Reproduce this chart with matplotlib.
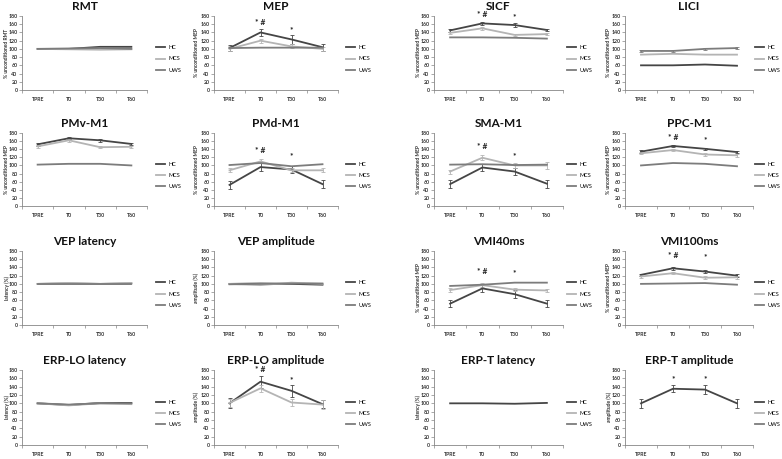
import numpy as np
import matplotlib
matplotlib.use("Agg")
import matplotlib.pyplot as plt
from matplotlib.lines import Line2D

plt.rcParams['font.family'] = ['Lato', 'DejaVu Sans']

categories = ["TPRE", "T0", "T30", "T60"]
groups = ["HC", "MCS", "UWS"]
nan = np.nan

# ---- data ----
rmt_hc = [100, 100, 105, 105]
rmt_mcs = [100, 99, 98, 99]
rmt_uws = [100, 101, 102, 100]

mep_hc = [102, 140, 123, 104]
mep_hc_err = [8, 9, 11, 9]
mep_mcs = [100, 120, 106, 100]
mep_mcs_err = [6, 5, 5, 5]
mep_uws = [102, 103, 103, 103]

sicf_hc = [145, 162, 158, 146]
sicf_hc_err = [4, 3, 4, 3]
sicf_mcs = [139, 150, 134, 136]
sicf_mcs_err = [3, 4, 3, 3]
sicf_uws = [128, 128, 127, 125]

lici_hc = [60, 60, 62, 59]
lici_mcs = [86, 88, 86, 86]
lici_uws = [95, 95, 100, 102]
lici_uws_err = [2, 2, 2, 2]

pmv_hc = [152, 167, 162, 153]
pmv_hc_err = [3, 3, 3, 3]
pmv_mcs = [147, 162, 145, 146]
pmv_mcs_err = [3, 3, 3, 3]
pmv_uws = [102, 104, 104, 100]

pmd_hc = [52, 96, 90, 54]
pmd_hc_err = [10, 10, 8, 10]
pmd_mcs = [88, 110, 88, 88]
pmd_mcs_err = [5, 5, 5, 5]
pmd_uws = [101, 106, 98, 103]

sma_hc = [54, 95, 85, 55]
sma_hc_err = [10, 9, 9, 10]
sma_mcs = [85, 119, 100, 100]
sma_mcs_err = [5, 6, 6, 8]
sma_uws = [102, 103, 101, 102]

ppc_hc = [134, 148, 141, 133]
ppc_hc_err = [3, 3, 3, 3]
ppc_mcs = [130, 138, 127, 125]
ppc_mcs_err = [3, 3, 3, 3]
ppc_uws = [100, 106, 104, 98]

vepl_hc = [100, 101, 100, 101]
vepl_mcs = [100, 102, 100, 102]
vepl_uws = [100, 100, 100, 100]

vepa_hc = [100, 101, 100, 98]
vepa_mcs = [100, 97, 103, 100]
vepa_uws = [99, 100, 101, 101]

vmi40_hc = [52, 89, 75, 52]
vmi40_hc_err = [9, 8, 9, 8]
vmi40_mcs = [85, 97, 86, 84]
vmi40_mcs_err = [5, 5, 4, 4]
vmi40_uws = [95, 98, 103, 103]

vmi100_hc = [122, 138, 130, 120]
vmi100_hc_err = [3, 3, 3, 3]
vmi100_mcs = [118, 126, 115, 116]
vmi100_mcs_err = [3, 3, 3, 3]
vmi100_uws = [100, 101, 102, 98]

erpll_hc = [100, 96, 101, 101]
erpll_mcs = [100, 95, 100, 98]
erpll_uws = [100, 97, 100, 100]

erpla_hc = [100, 152, 130, 98]
erpla_hc_err = [12, 14, 14, 10]
erpla_mcs = [101, 136, 102, 97]
erpla_mcs_err = [10, 8, 8, 10]
erpla_uws = [nan, nan, nan, nan]

erptl_hc = [100, 100, 99, 101]
erptl_mcs = [nan, nan, nan, nan]
erptl_uws = [nan, nan, nan, nan]

erpta_hc = [100, 135, 133, 100]
erpta_hc_err = [10, 8, 10, 10]
erpta_mcs = [nan, nan, nan, nan]
erpta_uws = [nan, nan, nan, nan]

# significance marks: (category, text, value at text centre)
mep_marks = [(1, "* #", 163), (2, "*", 147)]
sicf_marks = [(1, "* #", 183), (2, "*", 179)]
pmd_marks = [(1, "* #", 137), (2, "*", 123)]
sma_marks = [(1, "* #", 147), (2, "*", 123)]
ppc_marks = [(1, "* #", 170), (2, "*", 164)]
vmi40_marks = [(1, "* #", 131), (2, "*", 128)]
vmi100_marks = [(1, "* #", 168), (2, "*", 166)]
erpla_marks = [(1, "* #", 180), (2, "*", 158)]
erpta_marks = [(1, "*", 160), (2, "*", 160)]

MEPL = "% unconditioned MEP"
panels = [
    ("RMT", "% unconditioned RMT", (rmt_hc, None), (rmt_mcs, None), (rmt_uws, None), [], 0, 0),
    ("MEP", MEPL, (mep_hc, mep_hc_err), (mep_mcs, mep_mcs_err), (mep_uws, None), mep_marks, 0, 1),
    ("SICF", MEPL, (sicf_hc, sicf_hc_err), (sicf_mcs, sicf_mcs_err), (sicf_uws, None), sicf_marks, 0, 2),
    ("LICI", MEPL, (lici_hc, None), (lici_mcs, None), (lici_uws, lici_uws_err), [], 0, 3),
    ("PMv-M1", MEPL, (pmv_hc, pmv_hc_err), (pmv_mcs, pmv_mcs_err), (pmv_uws, None), [], 1, 0),
    ("PMd-M1", MEPL, (pmd_hc, pmd_hc_err), (pmd_mcs, pmd_mcs_err), (pmd_uws, None), pmd_marks, 1, 1),
    ("SMA-M1", MEPL, (sma_hc, sma_hc_err), (sma_mcs, sma_mcs_err), (sma_uws, None), sma_marks, 1, 2),
    ("PPC-M1", MEPL, (ppc_hc, ppc_hc_err), (ppc_mcs, ppc_mcs_err), (ppc_uws, None), ppc_marks, 1, 3),
    ("VEP latency", "latency (%)", (vepl_hc, None), (vepl_mcs, None), (vepl_uws, None), [], 2, 0),
    ("VEP amplitude", "amplitude (%)", (vepa_hc, None), (vepa_mcs, None), (vepa_uws, None), [], 2, 1),
    ("VMI40ms", MEPL, (vmi40_hc, vmi40_hc_err), (vmi40_mcs, vmi40_mcs_err), (vmi40_uws, None), vmi40_marks, 2, 2),
    ("VMI100ms", MEPL, (vmi100_hc, vmi100_hc_err), (vmi100_mcs, vmi100_mcs_err), (vmi100_uws, None), vmi100_marks, 2, 3),
    ("ERP-LO latency", "latency (%)", (erpll_hc, None), (erpll_mcs, None), (erpll_uws, None), [], 3, 0),
    ("ERP-LO amplitude", "amplitude (%)", (erpla_hc, erpla_hc_err), (erpla_mcs, erpla_mcs_err), (erpla_uws, None), erpla_marks, 3, 1),
    ("ERP-T latency", "latency (%)", (erptl_hc, None), (erptl_mcs, None), (erptl_uws, None), [], 3, 2),
    ("ERP-T amplitude", "amplitude (%)", (erpta_hc, erpta_hc_err), (erpta_mcs, None), (erpta_uws, None), erpta_marks, 3, 3),
]

colors = {"HC": "#454545", "MCS": "#b4b4b4", "UWS": "#7c7c7c"}
W, H = 782, 459
fig = plt.figure(figsize=(W / 100, H / 100), dpi=100)
fig.patch.set_facecolor("white")

col_x = [(22, 147), (214, 338), (434, 563), (625, 753)]
row_y = [(16, 90), (133, 206), (251, 325), (370, 445)]
ylabel_x = [7, 196, 418, 609]
legend_x = [156, 346, 567, 755]

xs = np.arange(len(categories)) + 0.5
for title, ylab, hc, mcs, uws, marks, r, c in panels:
    x0, x1 = col_x[c]
    yt, yb = row_y[r]
    ax = fig.add_axes([x0 / W, 1 - yb / H, (x1 - x0) / W, (yb - yt) / H])
    handles = []
    for g, (vals, err) in zip(groups, (hc, mcs, uws)):
        ax.errorbar(xs, vals, yerr=err, color=colors[g], lw=1.3, elinewidth=0.6,
                    capsize=1.3, capthick=0.6)
        handles.append(Line2D([], [], color=colors[g], lw=1.3, label=g))
    for ci, txt, val in marks:
        ax.text(xs[ci], val, txt, ha="center", va="center", fontsize=6,
                fontweight="bold", color="#222222", clip_on=False)
    ax.set_xlim(0, 4)
    ax.set_ylim(0, 180)
    ax.set_yticks(np.arange(0, 181, 20))
    ax.set_xticks(xs)
    ax.set_xticklabels(categories)
    ax.set_xticks(np.arange(0, 5), minor=True)
    ax.tick_params(axis="x", which="major", length=0, labelsize=3.8, pad=5)
    ax.tick_params(axis="x", which="minor", length=2, width=0.5, color="#868686")
    ax.tick_params(axis="y", length=2, width=0.5, labelsize=3.8, pad=1.2, color="#868686")
    for lab in ax.get_xticklabels() + ax.get_yticklabels():
        lab.set_fontweight("bold")
        lab.set_color("#333333")
    for s in ("top", "right"):
        ax.spines[s].set_visible(False)
    for s in ("left", "bottom"):
        ax.spines[s].set_color("#868686")
        ax.spines[s].set_linewidth(0.6)
    ax.set_title(title, fontsize=8.5, fontweight="bold", pad=4, color="#111111")
    fig.text(ylabel_x[c] / W, 1 - (yt + yb) / 2 / H, ylab, rotation=90, ha="center",
             va="center", fontsize=3.6, fontweight="bold", color="#333333")
    fig.legend(handles=handles, loc="center left",
               bbox_to_anchor=(legend_x[c] / W, 1 - ((yt + yb) / 2 + 6) / H),
               frameon=False, fontsize=4.0, handlelength=1.7, labelspacing=1.1,
               handletextpad=0.5, borderaxespad=0, borderpad=0)

fig.savefig("out.png", dpi=100)
